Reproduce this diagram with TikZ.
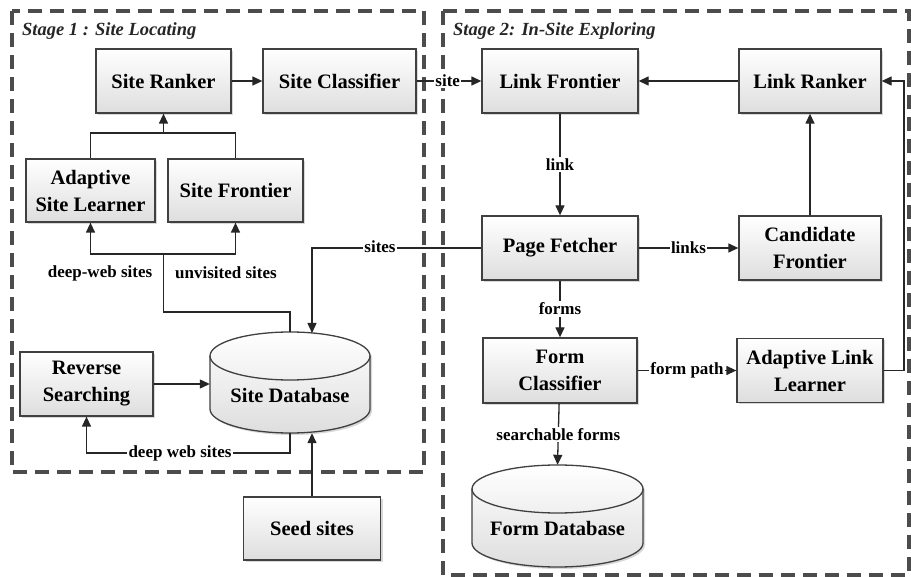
\documentclass[tikz,border=0pt]{standalone}
\usepackage{fontspec}
\setmainfont{Liberation Serif}
\usetikzlibrary{arrows.meta,shadows}
\begin{document}
\begin{tikzpicture}[x=1pt,y=-1pt,
  box/.style={draw=black!75, line width=1.3pt, top color=white, bottom color=black!13,
    font=\bfseries\fontsize{20.5}{27}\selectfont, align=center, inner sep=0pt,
    drop shadow={shadow xshift=2pt, shadow yshift=-2pt, opacity=.25, fill=black!60}},
  cyl/.style={draw=black!75, line width=1.3pt, top color=white, bottom color=black!13,
    drop shadow={shadow xshift=2pt, shadow yshift=-2pt, opacity=.25, fill=black!60}},
  dbtext/.style={font=\bfseries\fontsize{20.5}{27}\selectfont, inner sep=0pt},
  arr/.style={draw=black!85, line width=1.3pt, -{Triangle[length=10pt,width=9pt]}},
  ln/.style={draw=black!85, line width=1.3pt},
  lbl/.style={font=\bfseries\fontsize{17}{18}\selectfont, fill=white, inner sep=1.5pt},
  lbltxt/.style={font=\bfseries\fontsize{17}{18}\selectfont, inner sep=0pt},
  stageframe/.style={draw=black!70, line width=3.2pt, dash pattern=on 14pt off 8pt},
  stage/.style={font=\bfseries\itshape\fontsize{18.5}{20}\selectfont, text=black!85, anchor=west, inner sep=0pt}
]
\useasboundingbox (0,0) rectangle (911,577);
\fill[white] (0,0) rectangle (911,577);

% frames
\draw[stageframe] (12,11) rectangle (424,472);
\draw[stageframe] (443,11) rectangle (909,575);
\node[stage] (st1) at (22,31) {Stage 1 : Site Locating};
\node[stage] (st2) at (453,31) {Stage 2: In-Site Exploring};

% cylinders
\path[cyl] (210,356) -- (210,409) arc[start angle=180,end angle=360,x radius=80pt,y radius=24pt]
  -- (370,356) arc[start angle=0,end angle=180,x radius=80pt,y radius=24pt] -- cycle;
\draw[draw=black!75, line width=1.3pt] (370,356) arc[start angle=0,end angle=-180,x radius=80pt,y radius=24pt];
\node[minimum width=160pt, minimum height=101pt, inner sep=0pt] (sdb) at (290,382.5) {};
\node[dbtext] (sdbt) at (290,395) {Site Database};

\path[cyl] (472,489) -- (472,543) arc[start angle=180,end angle=360,x radius=85.5pt,y radius=24pt]
  -- (643,489) arc[start angle=0,end angle=180,x radius=85.5pt,y radius=24pt] -- cycle;
\draw[draw=black!75, line width=1.3pt] (643,489) arc[start angle=0,end angle=-180,x radius=85.5pt,y radius=24pt];
\node[minimum width=171pt, minimum height=102pt, inner sep=0pt] (fdb) at (557.5,516) {};
\node[dbtext] (fdbt) at (557.5,528) {Form Database};

% boxes stage 1
\node[box, minimum width=135pt, minimum height=64pt] (sr) at (163.5,81) {Site Ranker};
\node[box, minimum width=153pt, minimum height=64pt] (sc) at (339.5,81) {Site Classifier};
\node[box, minimum width=129pt, minimum height=63pt] (asl) at (90.5,190.5) {Adaptive\\Site Learner};
\node[box, minimum width=135pt, minimum height=63pt] (sf) at (235.5,190.5) {Site Frontier};
\node[box, minimum width=133pt, minimum height=64pt] (rs) at (86.5,384) {Reverse\\Searching};
\node[box, minimum width=137pt, minimum height=63pt] (seed) at (312,528.5) {Seed sites};

% boxes stage 2
\node[box, minimum width=156pt, minimum height=64pt] (lf) at (560,81) {Link Frontier};
\node[box, minimum width=142pt, minimum height=64pt] (lr) at (810,81) {Link Ranker};
\node[box, minimum width=156pt, minimum height=64pt] (pf) at (560,248) {Page Fetcher};
\node[box, minimum width=142pt, minimum height=64pt] (cf) at (810,248) {Candidate\\Frontier};
\node[box, minimum width=154pt, minimum height=65pt] (fc) at (560,370.5) {Form\\Classifier};
\node[box, minimum width=146pt, minimum height=64pt] (all) at (810,370.5) {Adaptive Link\\Learner};

% coordinates
\coordinate (j1) at (163.5,133);
\coordinate (j2) at (163.5,254);
\coordinate (j3) at (163.5,312);
\coordinate (j4) at (86.5,453);
\coordinate (j5) at (904,370.5);
\coordinate (sdbin) at (312,333);

% connectors stage 1
\draw[arr] (sr) -- (sc);
\draw[ln] (asl.north) |- (j1) -| (sf.north);
\draw[arr] (j1) -- (sr.south);
\draw[arr] (j2) -| (asl.south);
\draw[arr] (j2) -| (sf.south);
\draw[ln] (sdb.north) |- (j3) -- (j2);
\node[lbltxt] (l1) at (100,273) {deep-web sites};
\node[lbltxt] (l2) at (226,273) {unvisited sites};
\draw[arr] (rs.east) -- (rs.east -| sdb.west);
\draw[arr] (sdb.south) |- (j4) -- (rs.south);
\node[lbl] (l3) at (180,453) {deep web sites};
\draw[arr] (seed.north) -- (seed.north |- sdb.south);
\draw[arr] (pf.west) -| (sdbin);
\node[lbl] (l4) at (380,247) {sites};

% connectors stage 2
\draw[arr] (sc) -- node[lbl, pos=0.48] {site} (lf);
\draw[arr] (lr) -- (lf);
\draw[arr] (lf) -- node[lbl] {link} (pf);
\draw[arr] (pf) -- node[lbl] {links} (cf);
\draw[arr] (cf) -- (lr);
\draw[arr] (pf) -- node[lbl] {forms} (fc);
\draw[arr] (fc) -- node[lbl] {form path} (all);
\draw[arr] (all.east) -- (j5) |- (lr.east);
\draw[arr] (fc) -- node[lbl] {searchable forms} (fdb.north);
\end{tikzpicture}
\end{document}
